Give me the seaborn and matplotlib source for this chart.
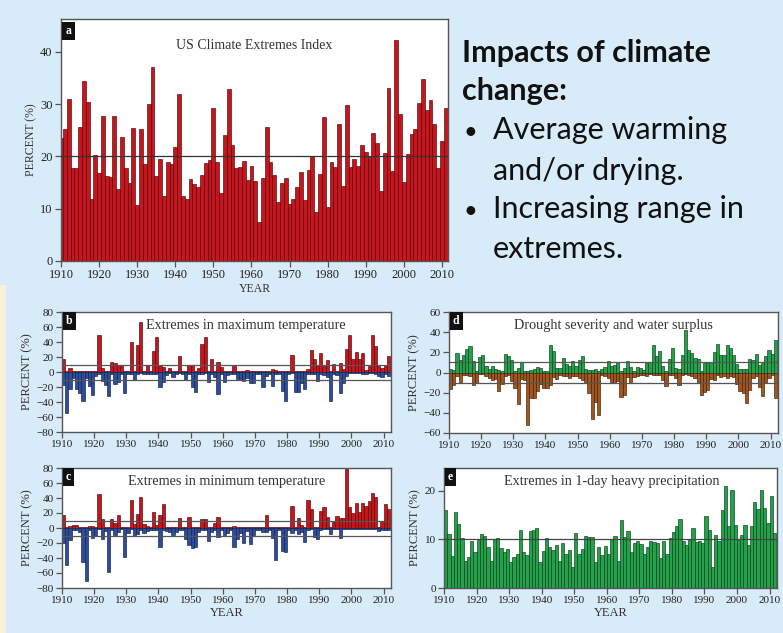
import numpy as np
import pandas as pd
import matplotlib
matplotlib.use("Agg")
import matplotlib.pyplot as plt
import seaborn as sns
from matplotlib.patches import Rectangle

# ---------------- data ----------------
years_cei = list(range(1910, 2012))
cei = [23.5, 25.2, 31.0, 17.7, 17.7, 25.7, 34.5, 30.4, 11.8, 20.2,
       16.8, 27.8, 16.3, 16.1, 27.8, 13.8, 23.8, 17.8, 15.0, 25.5,
       10.8, 25.2, 18.5, 30.0, 37.1, 16.2, 19.6, 12.4, 19.0, 18.5,
       21.8, 32.0, 12.4, 11.8, 15.7, 14.8, 14.2, 16.5, 18.8, 19.3,
       29.3, 19.0, 13.1, 24.2, 32.9, 22.1, 17.7, 17.9, 19.1, 15.5,
       18.1, 15.3, 7.4, 15.8, 25.6, 18.9, 16.4, 11.2, 15.0, 15.8,
       10.9, 11.9, 14.1, 17.0, 11.6, 17.5, 20.0, 9.4, 16.6, 27.5,
       10.4, 19.0, 17.9, 26.2, 14.4, 29.9, 17.9, 19.5, 18.1, 22.1,
       20.9, 19.9, 24.5, 22.6, 13.4, 20.6, 33.1, 17.2, 42.2, 28.1,
       15.1, 20.4, 24.3, 25.3, 30.3, 34.9, 28.9, 30.8, 26.2, 17.8,
       23.0, 29.3]

years = list(range(1910, 2012))

tmax_above = [17, 2, 5, 1, 1, 2, 2, 2, 2, 1,
              1, 50, 6, 1, 2, 13, 12, 10, 9, 2,
              2, 40, 2, 36, 67, 1, 9, 2, 28, 47,
              10, 7, 1, 5, 1, 2, 22, 1, 1, 10,
              10, 2, 5, 37, 47, 1, 18, 2, 13, 7,
              1, 1, 1, 8, 1, 1, 2, 3, 1, 1,
              1, 1, 1, 2, 1, 4, 3, 1, 1, 1,
              2, 23, 1, 1, 1, 1, 4, 29, 18, 10,
              26, 8, 16, 1, 11, 2, 12, 4, 31, 49,
              17, 27, 17, 26, 3, 8, 49, 35, 8, 6,
              10, 22]
tmax_below = [-17, -54, -23, -8, -22, -28, -38, -8, -19, -30,
              -5, -2, -12, -17, -32, -3, -16, -13, -2, -28,
              -3, -3, -10, -2, -1, -3, -3, -2, -2, -3,
              -20, -13, -4, -1, -6, -3, -1, -2, -10, -2,
              -20, -26, -3, -2, -1, -13, -2, -6, -29, -2,
              -13, -4, -3, -3, -9, -9, -12, -8, -15, -14,
              -3, -3, -20, -5, -2, -18, -3, -3, -25, -39,
              -3, -1, -27, -26, -14, -22, -3, -2, -3, -12,
              -2, -4, -6, -38, -2, -4, -28, -14, -5, -1,
              -1, -1, -1, -3, -2, -1, -1, -2, -5, -6,
              -3, -5]

tmin_above = [18, 1, 3, 4, 4, 2, 1, 1, 3, 3,
              2, 46, 12, 2, 1, 12, 7, 17, 1, 1,
              2, 38, 5, 19, 41, 5, 3, 2, 22, 4,
              17, 32, 1, 1, 2, 1, 13, 1, 2, 15,
              1, 1, 1, 12, 12, 1, 2, 7, 15, 1,
              1, 1, 1, 3, 1, 1, 1, 2, 1, 1,
              1, 1, 1, 17, 1, 1, 1, 2, 1, 1,
              1, 29, 1, 13, 4, 1, 37, 26, 1, 1,
              23, 28, 15, 2, 9, 16, 14, 13, 80, 28,
              20, 33, 21, 34, 30, 36, 47, 41, 2, 9,
              32, 26]
tmin_below = [-20, -49, -16, -3, -2, -5, -45, -71, -2, -13,
              -10, -1, -15, -4, -58, -2, -9, -5, -1, -38,
              -7, -1, -10, -8, -3, -6, -4, -3, -2, -3,
              -25, -2, -4, -5, -9, -5, -2, -2, -15, -22,
              -27, -25, -5, -2, -2, -17, -5, -3, -12, -3,
              -9, -7, -3, -25, -14, -6, -20, -4, -21, -9,
              -3, -3, -5, -5, -2, -13, -43, -3, -31, -32,
              -2, -6, -2, -8, -5, -18, -2, -1, -12, -14,
              -2, -1, -1, -8, -1, -1, -13, -1, -1, -1,
              -1, -1, -1, -1, -1, -1, -1, -1, -4, -3,
              -2, -2]

wet_surplus = [3, 2, 19, 12, 17, 23, 26, 11, 1, 15,
               17, 6, 3, 6, 3, 2, 1, 18, 16, 12,
               1, 4, 10, 1, 1, 2, 3, 5, 4, 1,
               1, 27, 21, 4, 4, 14, 8, 6, 11, 6,
               12, 16, 3, 2, 2, 3, 1, 3, 5, 11,
               6, 7, 9, 1, 4, 11, 5, 1, 5, 4,
               2, 9, 10, 27, 16, 21, 6, 1, 13, 24,
               4, 3, 17, 42, 22, 19, 14, 13, 1, 9,
               9, 10, 20, 28, 17, 17, 27, 24, 17, 8,
               3, 3, 3, 13, 12, 18, 7, 10, 16, 22,
               18, 32]
drought = [-16, -12, -3, -10, -2, -2, -3, -12, -10, -1,
           -1, -3, -5, -7, -6, -18, -11, -3, -2, -8,
           -15, -31, -6, -7, -52, -25, -25, -18, -11, -15,
           -15, -12, -4, -6, -2, -3, -3, -5, -3, -3,
           -5, -7, -10, -20, -46, -29, -42, -2, -3, -5,
           -9, -10, -8, -24, -22, -4, -9, -4, -3, -2,
           -2, -3, -1, -2, -2, -2, -7, -13, -2, -2,
           -5, -12, -2, -1, -2, -3, -5, -10, -22, -19,
           -17, -6, -7, -2, -4, -3, -5, -3, -4, -11,
           -18, -20, -30, -17, -5, -3, -14, -23, -10, -5,
           -2, -25]

heavy_precip = [16.0, 11.2, 6.5, 15.7, 13.1, 10.3, 5.6, 6.3, 9.7, 7.5,
                9.9, 11.2, 10.7, 8.5, 5.6, 10.1, 10.3, 8.3, 7.5, 8.0,
                5.4, 6.3, 7.1, 12.0, 7.4, 6.8, 11.8, 12.0, 12.3, 5.4,
                7.6, 10.3, 8.5, 7.9, 8.9, 5.6, 9.2, 6.9, 7.8, 4.4,
                11.3, 7.1, 8.1, 10.8, 10.5, 10.6, 5.3, 8.4, 6.8, 8.7,
                7.1, 10.0, 10.7, 5.6, 14.0, 10.5, 11.8, 7.4, 9.2, 9.7,
                9.1, 7.0, 8.5, 9.7, 9.5, 9.3, 6.1, 9.7, 7.0, 10.2,
                11.6, 12.7, 14.2, 9.6, 8.8, 9.9, 12.4, 9.4, 9.7, 9.2,
                14.8, 12.0, 4.3, 11.0, 9.6, 16.1, 21.0, 12.7, 20.1, 13.0,
                9.8, 11.0, 12.9, 8.8, 12.8, 17.6, 16.2, 20.2, 16.5, 13.3,
                18.9, 11.3]

decade_ticks = list(range(1910, 2011, 10))

# ---------------- style ----------------
sns.set_theme(style="ticks")
SERIF = ["Liberation Serif", "DejaVu Serif"]
plt.rcParams["font.family"] = SERIF
plt.rcParams["axes.unicode_minus"] = True

W, H = 783, 633
BG = "#d8ebf8"
RED, RED_EDGE = "#c8151d", "#4a0708"
BLUE, BLUE_EDGE = "#2d4c9c", "#10204a"
GREEN, GREEN_EDGE = "#22a24a", "#0b3d18"
BROWN, BROWN_EDGE = "#a0561c", "#3e1f06"
FRAME = "#555555"

fig = plt.figure(figsize=(W / 100, H / 100), dpi=100)
fig.patch.set_facecolor(BG)
# pale strip along the left border of the slide
fig.patches.append(Rectangle((0, 0), 6 / W, 0.55, transform=fig.transFigure,
                             facecolor="#f7f1d8", edgecolor="none", zorder=0))


def px_axes(left, top, right, bottom):
    return fig.add_axes([left / W, 1 - bottom / H, (right - left) / W, (bottom - top) / H])


def bars(ax, x, values, color, edge):
    df = pd.DataFrame({"year": x, "value": values})
    sns.barplot(data=df, x="year", y="value", native_scale=True, width=1.0,
                color=color, saturation=1, edgecolor=edge, linewidth=0.45,
                errorbar=None, ax=ax, zorder=2)


def frame(ax, label, title, tx, tsize, tick_size, ylab_size, xlabel):
    ax.set_facecolor("white")
    for s in ax.spines.values():
        s.set_color(FRAME)
        s.set_linewidth(1.0)
    ax.tick_params(axis="both", direction="out", length=4, width=0.9,
                   color=FRAME, labelsize=tick_size, labelcolor="#222222", pad=2)
    ax.set_xticks(decade_ticks)
    ax.set_xticklabels([str(t) for t in decade_ticks])
    ax.set_ylabel("PERCENT (%)", fontsize=ylab_size, color="#333333", labelpad=2)
    ax.set_xlabel("YEAR" if xlabel else "", fontsize=ylab_size, color="#333333", labelpad=1)
    ax.text(tx, 0.89, title, transform=ax.transAxes, ha="center", va="center",
            fontsize=tsize, color="#333333")
    ax.text(0.012, 0.975, label, transform=ax.transAxes, ha="left", va="top",
            fontsize=8.5, fontweight="bold", color="white",
            bbox=dict(boxstyle="square,pad=0.28", facecolor="#111111", edgecolor="none"))


# ---- panel a: US Climate Extremes Index ----
ax_a = px_axes(61, 19, 448, 261)
bars(ax_a, years_cei, cei, RED, RED_EDGE)
ax_a.axhline(20, color="#333333", lw=0.9, zorder=3)
ax_a.set_xlim(1910, 2011.6)
ax_a.set_ylim(0, 46.3)
ax_a.set_yticks([0, 10, 20, 30, 40])
frame(ax_a, "a", "US Climate Extremes Index", 0.5, 10, 9, 8.5, True)

x_low = [y + 0.5 for y in years]

# ---- panel b: maximum temperature ----
ax_b = px_axes(62, 312, 391, 432)
bars(ax_b, x_low, tmax_above, RED, RED_EDGE)
bars(ax_b, x_low, tmax_below, BLUE, BLUE_EDGE)
for h in (10, -10):
    ax_b.axhline(h, color="#555555", lw=0.9, zorder=3)
ax_b.set_xlim(1910, 2012.3)
ax_b.set_ylim(-80, 80)
ax_b.set_yticks(range(-80, 81, 20))
frame(ax_b, "b", "Extremes in maximum temperature", 0.56, 10.2, 8, 9, False)

# ---- panel c: minimum temperature ----
ax_c = px_axes(62, 468, 391, 588)
bars(ax_c, x_low, tmin_above, RED, RED_EDGE)
bars(ax_c, x_low, tmin_below, BLUE, BLUE_EDGE)
for h in (10, -10):
    ax_c.axhline(h, color="#555555", lw=0.9, zorder=3)
ax_c.set_xlim(1910, 2012.3)
ax_c.set_ylim(-80, 80)
ax_c.set_yticks(range(-80, 81, 20))
frame(ax_c, "c", "Extremes in minimum temperature", 0.50, 10.2, 8, 9, True)

# ---- panel d: drought and water surplus ----
ax_d = px_axes(449, 312, 778, 433)
bars(ax_d, x_low, wet_surplus, GREEN, GREEN_EDGE)
bars(ax_d, x_low, drought, BROWN, BROWN_EDGE)
for h in (10, -10):
    ax_d.axhline(h, color="#555555", lw=0.9, zorder=3)
ax_d.set_xlim(1910, 2012.3)
ax_d.set_ylim(-60, 60)
ax_d.set_yticks(range(-60, 61, 20))
frame(ax_d, "d", "Drought severity and water surplus", 0.50, 10.2, 8, 9, False)

# ---- panel e: 1-day heavy precipitation ----
ax_e = px_axes(444, 468, 777, 588)
bars(ax_e, x_low, heavy_precip, GREEN, GREEN_EDGE)
ax_e.axhline(10, color="#444444", lw=0.9, zorder=3)
ax_e.set_xlim(1910, 2012.3)
ax_e.set_ylim(0, 24.7)
ax_e.set_yticks([0, 10, 20])
frame(ax_e, "e", "Extremes in 1-day heavy precipitation", 0.505, 10.2, 8, 9, True)

# ---- slide text ----
SANS = ["Lato", "DejaVu Sans"]
TS = 22
fig.text(462 / W, 1 - 62 / H, "Impacts of climate", fontsize=TS, fontweight="bold",
         family=SANS, color="#111111", va="baseline")
fig.text(462 / W, 1 - 100 / H, "change:", fontsize=TS, fontweight="bold",
         family=SANS, color="#111111", va="baseline")
bullet_lines = [(139, "•", "Average warming"), (180, "", "and/or drying."),
                (218, "•", "Increasing range in"), (258, "", "extremes.")]
for y, b, txt in bullet_lines:
    if b:
        fig.text(464 / W, 1 - y / H, b, fontsize=17, family=SANS, color="#111111", va="baseline")
    fig.text(493 / W, 1 - y / H, txt, fontsize=TS, family=SANS, color="#111111", va="baseline")

fig.savefig("out.png", dpi=100, facecolor=fig.get_facecolor())
